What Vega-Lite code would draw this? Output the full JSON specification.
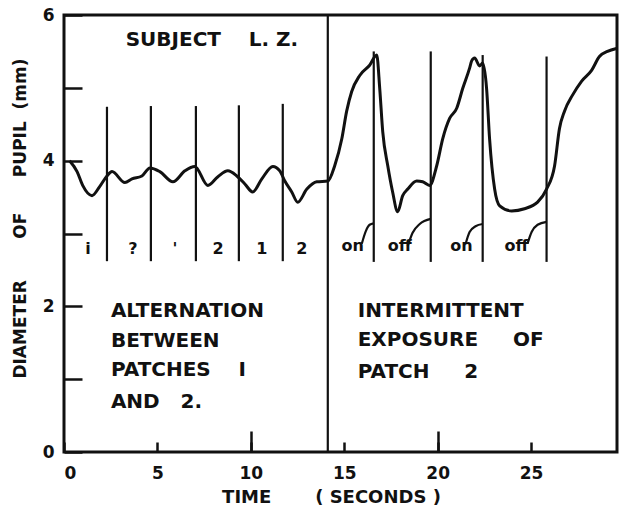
{
  "$schema": "https://vega.github.io/schema/vega-lite/v6.json",
  "width": 553,
  "height": 437,
  "autosize": {"type": "none"},
  "padding": {"left": 64, "top": 15, "right": 2, "bottom": 63},
  "background": "#ffffff",
  "config": {
    "view": {"stroke": "#111111", "strokeWidth": 3},
    "font": "DejaVu Sans",
    "axis": {
      "domain": false,
      "grid": false,
      "tickColor": "#111111",
      "tickWidth": 2.5,
      "labelFont": "DejaVu Sans",
      "labelFontWeight": "bold",
      "labelFontSize": 17,
      "labelColor": "#111111",
      "titleFont": "DejaVu Sans",
      "titleFontWeight": "bold",
      "titleColor": "#111111",
      "titleFontSize": 18
    }
  },
  "datasets": {
    "curve": [
      {"t": 0.3, "mm": 4.0}, {"t": 0.7, "mm": 3.85}, {"t": 1.0, "mm": 3.66}, {"t": 1.5, "mm": 3.52},
      {"t": 1.9, "mm": 3.64}, {"t": 2.3, "mm": 3.79}, {"t": 2.57, "mm": 3.85}, {"t": 3.26, "mm": 3.70},
      {"t": 3.64, "mm": 3.75}, {"t": 4.17, "mm": 3.79}, {"t": 4.6, "mm": 3.90}, {"t": 5.13, "mm": 3.85},
      {"t": 5.83, "mm": 3.71}, {"t": 6.47, "mm": 3.86}, {"t": 7.0, "mm": 3.92}, {"t": 7.7, "mm": 3.66},
      {"t": 8.24, "mm": 3.78}, {"t": 8.77, "mm": 3.86}, {"t": 9.25, "mm": 3.79}, {"t": 9.68, "mm": 3.68},
      {"t": 10.1, "mm": 3.57}, {"t": 10.59, "mm": 3.75}, {"t": 11.18, "mm": 3.92}, {"t": 11.55, "mm": 3.86},
      {"t": 11.82, "mm": 3.72}, {"t": 12.19, "mm": 3.57}, {"t": 12.51, "mm": 3.43}, {"t": 13.0, "mm": 3.61},
      {"t": 13.53, "mm": 3.71}, {"t": 14.12, "mm": 3.72}, {"t": 14.49, "mm": 3.93}, {"t": 14.87, "mm": 4.30},
      {"t": 15.13, "mm": 4.68}, {"t": 15.4, "mm": 4.95}, {"t": 15.83, "mm": 5.17}, {"t": 16.36, "mm": 5.31},
      {"t": 16.74, "mm": 5.45}, {"t": 16.9, "mm": 4.99}, {"t": 17.06, "mm": 4.40}, {"t": 17.33, "mm": 3.93},
      {"t": 17.59, "mm": 3.57}, {"t": 17.86, "mm": 3.30}, {"t": 18.13, "mm": 3.52}, {"t": 18.4, "mm": 3.61},
      {"t": 18.88, "mm": 3.72}, {"t": 19.2, "mm": 3.71}, {"t": 19.57, "mm": 3.66}, {"t": 19.95, "mm": 3.93},
      {"t": 20.27, "mm": 4.30}, {"t": 20.64, "mm": 4.58}, {"t": 21.02, "mm": 4.72}, {"t": 21.34, "mm": 4.99},
      {"t": 21.71, "mm": 5.27}, {"t": 21.82, "mm": 5.37}, {"t": 21.98, "mm": 5.41}, {"t": 22.25, "mm": 5.30},
      {"t": 22.41, "mm": 5.34}, {"t": 22.62, "mm": 4.99}, {"t": 22.78, "mm": 4.30}, {"t": 23.05, "mm": 3.61},
      {"t": 23.32, "mm": 3.38}, {"t": 23.96, "mm": 3.31}, {"t": 24.65, "mm": 3.34}, {"t": 25.35, "mm": 3.43},
      {"t": 25.83, "mm": 3.61}, {"t": 26.26, "mm": 3.93}, {"t": 26.52, "mm": 4.44}, {"t": 26.79, "mm": 4.68},
      {"t": 27.22, "mm": 4.90}, {"t": 27.7, "mm": 5.09}, {"t": 28.24, "mm": 5.24}, {"t": 28.66, "mm": 5.43},
      {"t": 29.09, "mm": 5.50}, {"t": 29.57, "mm": 5.54}
    ],
    "segs": [
      {"t": 2.30, "lo": 2.62, "hi": 4.74},
      {"t": 4.65, "lo": 2.62, "hi": 4.75},
      {"t": 7.06, "lo": 2.62, "hi": 4.75},
      {"t": 9.36, "lo": 2.62, "hi": 4.76},
      {"t": 11.71, "lo": 2.62, "hi": 4.78},
      {"t": 14.12, "lo": 0, "hi": 6},
      {"t": 16.58, "lo": 2.61, "hi": 5.5},
      {"t": 19.63, "lo": 2.61, "hi": 5.5},
      {"t": 22.41, "lo": 2.61, "hi": 5.45},
      {"t": 25.83, "lo": 2.61, "hi": 5.43}
    ],
    "arcs": [
      {"arc": 1, "t": 15.94, "mm": 2.86}, {"arc": 1, "t": 16.15, "mm": 3.03}, {"arc": 1, "t": 16.36, "mm": 3.12}, {"arc": 1, "t": 16.58, "mm": 3.14},
      {"arc": 2, "t": 18.4, "mm": 2.83}, {"arc": 2, "t": 18.66, "mm": 3.01}, {"arc": 2, "t": 19.04, "mm": 3.13}, {"arc": 2, "t": 19.63, "mm": 3.20},
      {"arc": 3, "t": 21.5, "mm": 2.86}, {"arc": 3, "t": 21.71, "mm": 3.02}, {"arc": 3, "t": 22.03, "mm": 3.10}, {"arc": 3, "t": 22.41, "mm": 3.13},
      {"arc": 4, "t": 24.81, "mm": 2.86}, {"arc": 4, "t": 25.03, "mm": 3.02}, {"arc": 4, "t": 25.35, "mm": 3.12}, {"arc": 4, "t": 25.83, "mm": 3.16}
    ],
    "marks": [
      {"t": 1.28, "mm": 2.79, "label": "i"},
      {"t": 3.69, "mm": 2.79, "label": "?"},
      {"t": 5.94, "mm": 2.79, "label": "'"},
      {"t": 8.24, "mm": 2.79, "label": "2"},
      {"t": 10.59, "mm": 2.79, "label": "1"},
      {"t": 12.73, "mm": 2.79, "label": "2"},
      {"t": 15.45, "mm": 2.83, "label": "on"},
      {"t": 17.97, "mm": 2.83, "label": "off"},
      {"t": 21.28, "mm": 2.83, "label": "on"},
      {"t": 24.22, "mm": 2.83, "label": "off"}
    ],
    "notes": [
      {"t": 3.3, "mm": 5.66, "label": "SUBJECT\u00a0\u00a0\u00a0\u00a0L.\u00a0Z."},
      {"t": 2.51, "mm": 1.93, "label": "ALTERNATION"},
      {"t": 2.51, "mm": 1.52, "label": "BETWEEN"},
      {"t": 2.51, "mm": 1.13, "label": "PATCHES\u00a0\u00a0\u00a0\u00a0I"},
      {"t": 2.51, "mm": 0.69, "label": "AND\u00a0\u00a0\u00a02."},
      {"t": 15.72, "mm": 1.93, "label": "INTERMITTENT"},
      {"t": 15.72, "mm": 1.54, "label": "EXPOSURE\u00a0\u00a0\u00a0\u00a0\u00a0OF"},
      {"t": 15.72, "mm": 1.10, "label": "PATCH\u00a0\u00a0\u00a0\u00a0\u00a02"}
    ]
  },
  "layer": [
    {
      "data": {"name": "segs"},
      "mark": {"type": "rule", "stroke": "#111111", "strokeWidth": 2.2},
      "encoding": {
        "x": {"field": "t", "type": "quantitative", "scale": {"domain": [0, 29.6], "nice": false, "zero": false},
              "axis": {"orient": "bottom", "values": [10, 20], "tickSize": -21, "labels": false, "title": null}},
        "y": {"field": "lo", "type": "quantitative", "scale": {"domain": [0, 6], "nice": false}, "axis": null},
        "y2": {"field": "hi"}
      }
    },
    {
      "data": {"name": "curve"},
      "mark": {"type": "line", "stroke": "#111111", "strokeWidth": 3, "interpolate": "monotone"},
      "encoding": {
        "x": {"field": "t", "type": "quantitative",
              "axis": {"orient": "bottom", "values": [0, 5, 10, 15, 20, 25], "tickSize": -10, "labelPadding": 23, "format": "d",
                       "title": "TIME\u00a0\u00a0\u00a0\u00a0\u00a0\u00a0\u00a0(\u00a0SECONDS\u00a0)", "titleX": 267, "titleY": 45, "titleAlign": "center", "titleBaseline": "middle"}},
        "y": {"field": "mm", "type": "quantitative",
              "axis": {"values": [0, 1, 2, 3, 4, 5, 6], "tickSize": -18, "labelPadding": 28,
                       "labelExpr": "datum.value % 2 == 0 ? datum.label : ''",
                       "title": "DIAMETER\u00a0\u00a0\u00a0\u00a0\u00a0\u00a0\u00a0OF\u00a0\u00a0\u00a0\u00a0\u00a0\u00a0PUPIL\u00a0\u00a0(mm)", "titleX": -44, "titleY": 203, "titleAngle": -90,
                       "titleFontSize": 17, "titleAlign": "center", "titleBaseline": "middle"}}
      }
    },
    {
      "data": {"name": "arcs"},
      "mark": {"type": "line", "stroke": "#111111", "strokeWidth": 2.2, "interpolate": "monotone"},
      "encoding": {
        "x": {"field": "t", "type": "quantitative", "axis": null},
        "y": {"field": "mm", "type": "quantitative", "axis": null},
        "detail": {"field": "arc", "type": "nominal"}
      }
    },
    {
      "data": {"name": "marks"},
      "mark": {"type": "text", "fontWeight": "bold", "fontSize": 16, "align": "center", "baseline": "middle", "color": "#111111"},
      "encoding": {
        "x": {"field": "t", "type": "quantitative", "axis": null},
        "y": {"field": "mm", "type": "quantitative", "axis": null},
        "text": {"field": "label"}
      }
    },
    {
      "data": {"name": "notes"},
      "mark": {"type": "text", "fontWeight": "bold", "fontSize": 20, "align": "left", "baseline": "middle", "color": "#111111"},
      "encoding": {
        "x": {"field": "t", "type": "quantitative", "axis": null},
        "y": {"field": "mm", "type": "quantitative", "axis": null},
        "text": {"field": "label"}
      }
    }
  ],
  "resolve": {"axis": {"x": "independent", "y": "independent"}}
}
